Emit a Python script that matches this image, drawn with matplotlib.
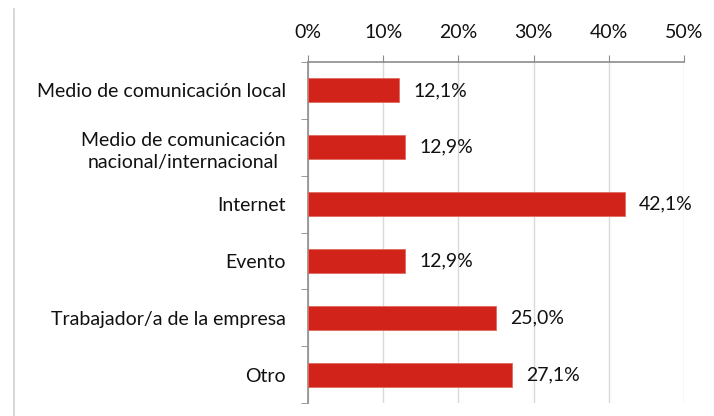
import matplotlib.pyplot as plt
from matplotlib.lines import Line2D
import numpy as np

categories = ['Medio de comunicación local',
              'Medio de comunicación\nnacional/internacional',
              'Internet', 'Evento', 'Trabajador/a de la empresa', 'Otro']
values = [12.1, 12.9, 42.1, 12.9, 25.0, 27.1]
xticks = [0, 10, 20, 30, 40, 50]

plt.rcParams['font.family'] = ['Lato', 'DejaVu Sans']
FS = 14

fig = plt.figure(figsize=(7.14, 4.16), dpi=100)
ax = fig.add_axes([308/714, 1 - 403/416, (684-308)/714, (403-62)/416])

y = np.arange(len(categories))
ax.barh(y, values, height=0.42, color='#d2231b', edgecolor='#e06a60', linewidth=0.6, zorder=3)
for yi, v in zip(y, values):
    ax.text(v + 1.9, yi, f'{v:.1f}%'.replace('.', ','), va='center', ha='left',
            fontsize=FS, color='#111111')

ax.set_xlim(0, 50)
ax.set_ylim(len(categories) - 0.5, -0.5)
ax.set_xticks(xticks)
ax.set_xticklabels([f'{t}%' for t in xticks], fontsize=FS, color='#111111')
ax.xaxis.tick_top()
ax.tick_params(axis='x', length=5, color='#8c8c8c', pad=10)
ax.grid(True, axis='x', color='#d9d9d9', linewidth=1, zorder=0)

ax.set_yticks(y)
ax.set_yticklabels(categories, fontsize=FS, color='#111111', linespacing=1.4)
ax.tick_params(axis='y', length=0, pad=16)
ax.set_yticks(np.arange(-0.5, len(categories) + 0.5, 1), minor=True)
ax.tick_params(axis='y', which='minor', length=5, color='#8c8c8c')
for lbl in ax.get_yticklabels():
    lbl.set_horizontalalignment('right')
    lbl.set_multialignment('center')

for s in ['right', 'bottom']:
    ax.spines[s].set_visible(False)
ax.spines['top'].set_color('#8c8c8c')
ax.spines['left'].set_color('#8c8c8c')
ax.spines['top'].set_linewidth(1.2)
ax.spines['left'].set_linewidth(1.2)

fig.add_artist(Line2D([14/714, 14/714], [0, 1 - 9/416], color='#d0d0d0', linewidth=1.2))

fig.savefig('out.png', dpi=100)
